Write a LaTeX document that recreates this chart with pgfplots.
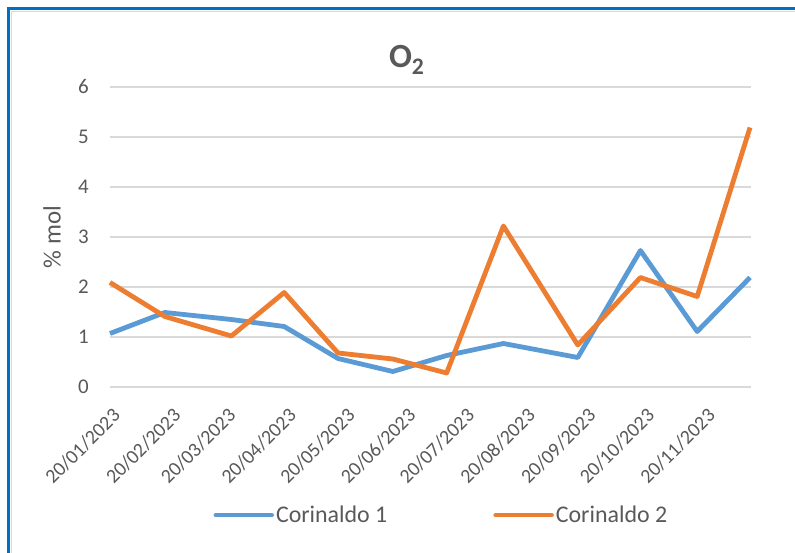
\documentclass[border=0pt]{standalone}
\usepackage{pgfplots}
\pgfplotsset{compat=1.18}
\usepackage{fontspec}
\setmainfont{Carlito}
\definecolor{cblue}{HTML}{5B9BD5}
\definecolor{corange}{HTML}{ED7D31}
\definecolor{tgrey}{HTML}{595959}
\definecolor{ggrey}{HTML}{D9D9D9}
\definecolor{frameblue}{HTML}{0070C0}
\begin{document}
\begin{tikzpicture}
\useasboundingbox (0,0) rectangle (795bp,553bp);
\fill[white] (0,0) rectangle (795bp,553bp);
\draw[ggrey, line width=1.5bp] (11.5bp,0) -- (11.5bp,541.5bp) -- (795bp,541.5bp);
\draw[frameblue, line width=3bp] (8.5bp,0) -- (8.5bp,544.5bp) -- (795bp,544.5bp);
\begin{axis}[
  at={(110bp,166bp)}, anchor=south west,
  scale only axis, width=641bp, height=300bp,
  xmin=0, xmax=327.5, ymin=0, ymax=6,
  clip=false,
  axis line style={draw=none},
  ymajorgrids, grid style={ggrey, line width=1.5bp},
  major tick length=0pt,
  ytick={0,1,2,3,4,5,6},
  xtick={0,31,59,90,120,151,181,212,243,273,304},
  xticklabels={20/01/2023,20/02/2023,20/03/2023,20/04/2023,20/05/2023,20/06/2023,20/07/2023,20/08/2023,20/09/2023,20/10/2023,20/11/2023},
  /pgf/number format/assume math mode=true,
  yticklabel style={font=\fontsize{21}{25}\selectfont, text=tgrey, anchor=east, inner sep=0pt, xshift=-21bp},
  xticklabel style={font=\fontsize{20}{24}\selectfont, text=tgrey, rotate=45, anchor=north east, inner sep=0pt, xshift=-13bp, yshift=-15bp},
  ylabel={\% mol},
  ylabel style={font=\fontsize{25}{30}\selectfont, text=tgrey, at={(axis description cs:-0.0905,0.5)}, anchor=center},
  title={\bfseries O\textsubscript{2}},
  title style={font=\fontsize{34}{40}\selectfont, text=tgrey, at={(axis description cs:0.463,1)}, anchor=center, yshift=21bp},
  legend columns=2,
  legend style={at={(axis description cs:0.517,-0.427)}, anchor=center, draw=none, fill=none,
    font=\fontsize{24}{28}\selectfont, text=tgrey,
    /tikz/every even column/.append style={column sep=104bp}},
  legend image code/.code={\draw[#1, line width=4.5bp, line cap=round] (0bp,0bp) -- (56bp,0bp);},
  every axis plot/.append style={line width=4.8bp, line join=round, mark=none},
]
\addplot[cblue] coordinates {(0,1.07)(28,1.49)(62,1.35)(89,1.21)(116.5,0.57)(144.5,0.31)(172,0.63)(201,0.87)(239,0.59)(271,2.73)(300,1.11)(327,2.19)};
\addlegendentry{Corinaldo 1}
\addplot[corange] coordinates {(0,2.09)(28,1.41)(62,1.02)(89,1.89)(116.5,0.68)(144.5,0.56)(172,0.28)(201,3.22)(239,0.84)(271,2.19)(300,1.81)(327,5.19)};
\addlegendentry{Corinaldo 2}
\end{axis}
\end{tikzpicture}
\end{document}
